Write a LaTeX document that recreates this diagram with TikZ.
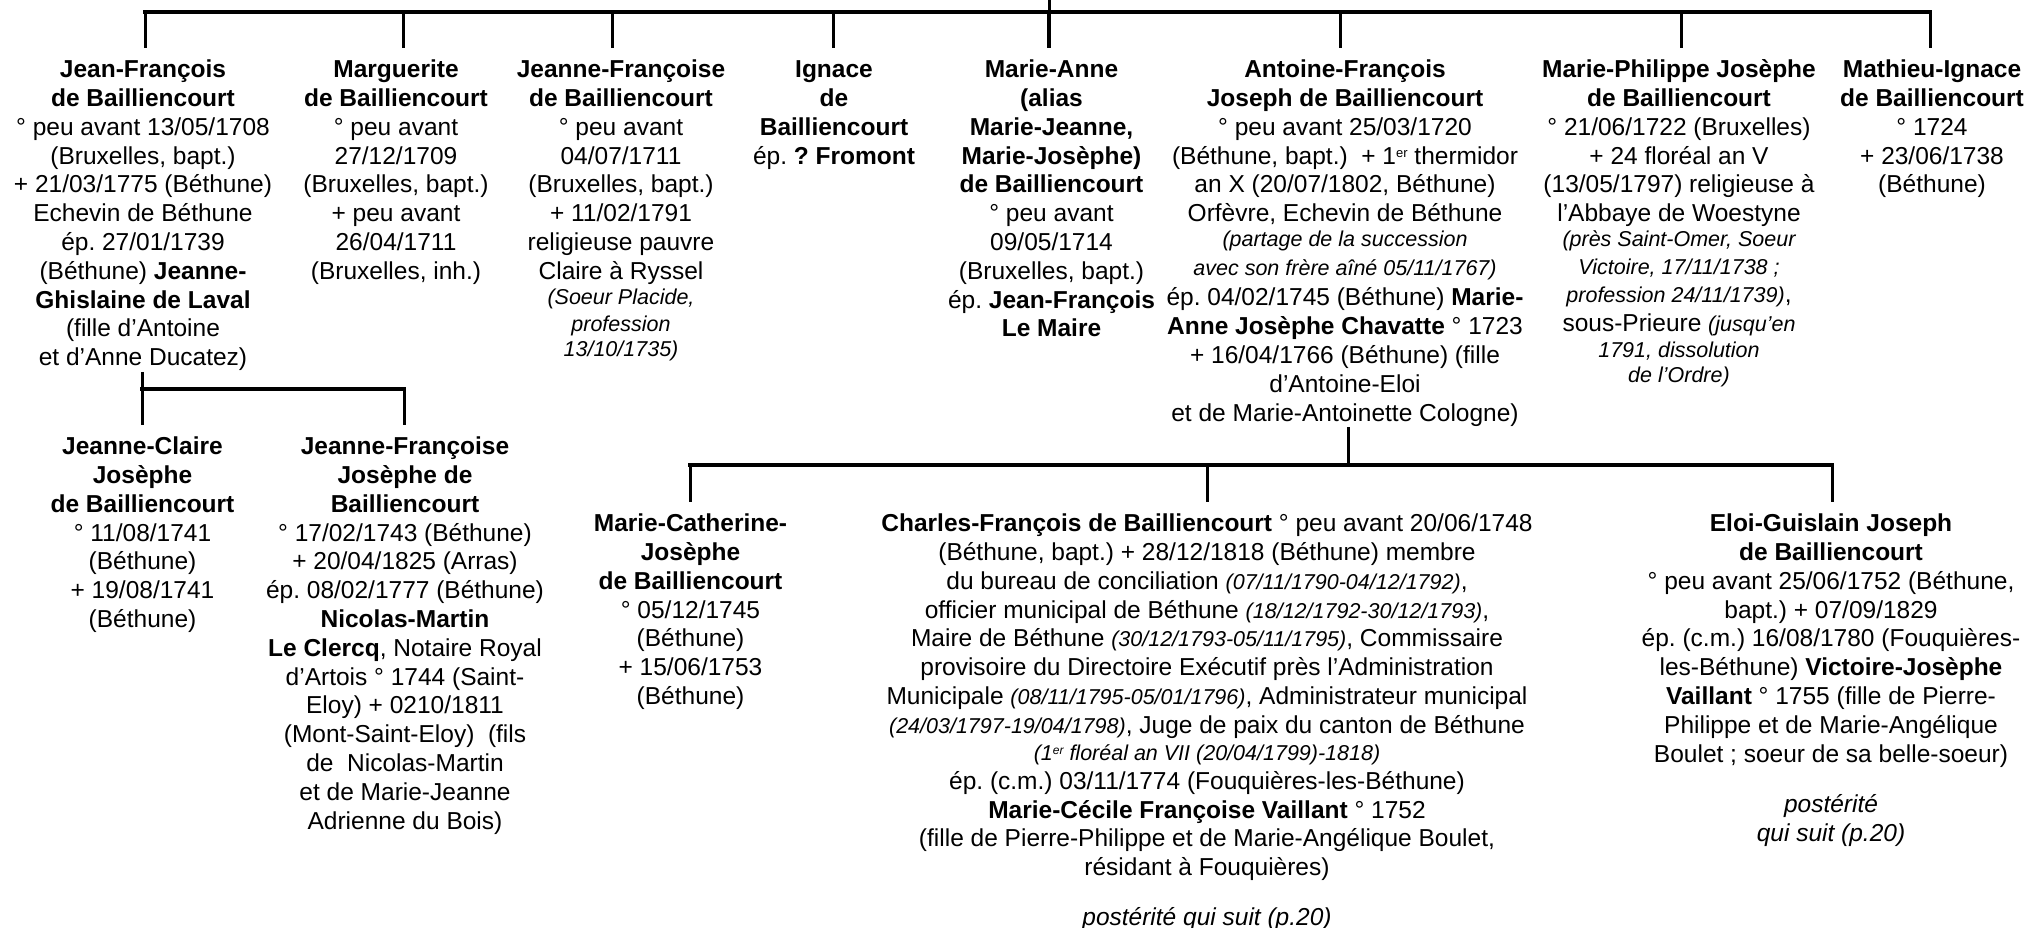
\documentclass[tikz,border=0pt]{standalone}
\usepackage{fontspec}
\setmainfont{Liberation Sans}
\newcommand{\topstrut}{\rule{0pt}{29.5pt}}
\newcommand{\ita}[1]{{\fontsize{21.5}{28.8}\selectfont\itshape #1}}
\newcommand{\itb}[1]{{\itshape #1}}
\newcommand{\er}{\raisebox{7pt}{\fontsize{13}{13}\selectfont er}}
\newcommand{\erit}{\raisebox{6pt}{\fontsize{12}{12}\selectfont\itshape er}}
\tikzset{
  person/.style={anchor=north,align=center,inner sep=0pt,text=black,
    font=\fontsize{24.5}{28.8}\selectfont\frenchspacing},
  link/.style={draw=black,line width=3pt},
  linkb/.style={draw=black,line width=3.6pt,line cap=rect},
  linkc/.style={draw=black,line width=3.8pt},
}
\begin{document}
\begin{tikzpicture}[x=1pt,y=-1pt]
\useasboundingbox (0,0) rectangle (2029,928);
% row 1
\node[person] (n1) at (143,48) {\topstrut\textbf{Jean-François}\\\textbf{de Bailliencourt}\\° peu avant 13/05/1708\\(Bruxelles, bapt.)\\+ 21/03/1775 (Béthune)\\Echevin de Béthune\\ép. 27/01/1739\\(Béthune) \textbf{Jeanne-}\\\textbf{Ghislaine de Laval}\\(fille d’Antoine\\et d’Anne Ducatez)\rule[-6pt]{0pt}{1pt}};
\node[person] (n2) at (396,48) {\topstrut\textbf{Marguerite}\\\textbf{de Bailliencourt}\\° peu avant\\27/12/1709\\(Bruxelles, bapt.)\\+ peu avant\\26/04/1711\\(Bruxelles, inh.)};
\node[person] (n3) at (621,48) {\topstrut\textbf{Jeanne-Françoise}\\\textbf{de Bailliencourt}\\° peu avant\\04/07/1711\\(Bruxelles, bapt.)\\+ 11/02/1791\\religieuse pauvre\\Claire à Ryssel\\[-3.6pt]\ita{(Soeur Placide,}\\[-2.2pt]\ita{profession}\\[-3.2pt]\ita{13/10/1735)}};
\node[person] (n4) at (834,48) {\topstrut\textbf{Ignace}\\\textbf{de}\\\textbf{Bailliencourt}\\ép. \textbf{? Fromont}};
\node[person] (n5) at (1051.5,48) {\topstrut\textbf{Marie-Anne}\\\textbf{(alias}\\\textbf{Marie-Jeanne,}\\\textbf{Marie-Josèphe)}\\\textbf{de Bailliencourt}\\° peu avant\\09/05/1714\\(Bruxelles, bapt.)\\ép. \textbf{Jean-François}\\\textbf{Le Maire}};
\node[person] (n6) at (1345,48) {\topstrut\textbf{Antoine-François}\\\textbf{Joseph de Bailliencourt}\\° peu avant 25/03/1720\\(Béthune, bapt.)\ \ + 1\er{} thermidor\\an X (20/07/1802, Béthune)\\Orfèvre, Echevin de Béthune\\[-3.6pt]\ita{(partage de la succession}\\\ita{avec son frère aîné 05/11/1767)}\\[1.4pt]ép. 04/02/1745 (Béthune) \textbf{Marie-}\\\textbf{Anne Josèphe Chavatte} ° 1723\\+ 16/04/1766 (Béthune) (fille\\d’Antoine-Eloi\\et de Marie-Antoinette Cologne)\rule[-6pt]{0pt}{1pt}};
\node[person] (n7) at (1679,48) {\topstrut\textbf{Marie-Philippe Josèphe}\\\textbf{de Bailliencourt}\\° 21/06/1722 (Bruxelles)\\+ 24 floréal an V\\(13/05/1797) religieuse à\\l’Abbaye de Woestyne\\[-3.6pt]\ita{(près Saint-Omer, Soeur}\\[-1.6pt]\ita{Victoire, 17/11/1738 ;}\\\ita{profession 24/11/1739)},\\sous-Prieure \ita{(jusqu’en}\\[-3.2pt]\ita{1791, dissolution}\\[-3.2pt]\ita{de l’Ordre)}};
\node[person] (n8) at (1932,48) {\topstrut\textbf{Mathieu-Ignace}\\\textbf{de Bailliencourt}\\° 1724\\+ 23/06/1738\\(Béthune)};
% row 2
\node[person] (c1) at (142.5,425) {\topstrut\textbf{Jeanne-Claire}\\\textbf{Josèphe}\\\textbf{de Bailliencourt}\\° 11/08/1741\\(Béthune)\\+ 19/08/1741\\(Béthune)};
\node[person] (c2) at (405,425) {\topstrut\textbf{Jeanne-Françoise}\\\textbf{Josèphe de}\\\textbf{Bailliencourt}\\° 17/02/1743 (Béthune)\\+ 20/04/1825 (Arras)\\ép. 08/02/1777 (Béthune)\\\textbf{Nicolas-Martin}\\\textbf{Le Clercq}, Notaire Royal\\d’Artois ° 1744 (Saint-\\Eloy) + 0210/1811\\(Mont-Saint-Eloy)\ \ (fils\\de\ \ Nicolas-Martin\\et de Marie-Jeanne\\Adrienne du Bois)};
% row 3
\node[person] (d1) at (690.5,502) {\topstrut\textbf{Marie-Catherine-}\\\textbf{Josèphe}\\\textbf{de Bailliencourt}\\° 05/12/1745\\(Béthune)\\+ 15/06/1753\\(Béthune)};
\node[person] (d2) at (1207,502) {\topstrut\textbf{Charles-François de Bailliencourt} ° peu avant 20/06/1748\\(Béthune, bapt.) + 28/12/1818 (Béthune) membre\\du bureau de conciliation \ita{(07/11/1790-04/12/1792)},\\officier municipal de Béthune \ita{(18/12/1792-30/12/1793)},\\Maire de Béthune \ita{(30/12/1793-05/11/1795)}, Commissaire\\provisoire du Directoire Exécutif près l’Administration\\Municipale \ita{(08/11/1795-05/01/1796)}, Administrateur municipal\\\ita{(24/03/1797-19/04/1798)}, Juge de paix du canton de Béthune\\[-1.6pt]\ita{(1\erit{} floréal an VII (20/04/1799)-1818)}\\ép. (c.m.) 03/11/1774 (Fouquières-les-Béthune)\\\textbf{Marie-Cécile Françoise Vaillant} ° 1752\\(fille de Pierre-Philippe et de Marie-Angélique Boulet,\\résidant à Fouquières)\\[20.6pt]\itb{postérité qui suit (p.20)}};
\node[person] (d3) at (1831,502) {\topstrut\textbf{Eloi-Guislain Joseph}\\\textbf{de Bailliencourt}\\° peu avant 25/06/1752 (Béthune,\\bapt.) + 07/09/1829\\ép. (c.m.) 16/08/1780 (Fouquières-\\les-Béthune) \textbf{Victoire-Josèphe}\\\textbf{Vaillant} ° 1755 (fille de Pierre-\\Philippe et de Marie-Angélique\\Boulet ; soeur de sa belle-soeur)\\[21.4pt]\itb{postérité}\\\itb{qui suit (p.20)}};
% top bus
\coordinate (top) at (1049,0);
\coordinate (a1) at (145,12);
\coordinate (a2) at (403,12);
\coordinate (a3) at (612,12);
\coordinate (a4) at (833,12);
\coordinate (a5) at (1049,12);
\coordinate (a6) at (1340,12);
\coordinate (a7) at (1681,12);
\coordinate (a8) at (1930,12);
\draw[linkb] (a1) -- (a8);
\draw[link] (top) -- (a5);
\foreach \i in {1,2,3,4,6,7,8} \draw[link] (a\i) -- (a\i |- n\i.north);
\draw[linkc] (a5) -- (a5 |- n5.north);
% Jean-François's children
\coordinate (b1) at (142,389);
\coordinate (b2) at (404,389);
\draw[linkb] (b1) -- (b2);
\draw[link] (b1 |- n1.south) -- (b1);
\draw[link] (b1) -- (b1 |- c1.north);
\draw[link] (b2) -- (b2 |- c2.north);
% Antoine-François's children
\coordinate (e0) at (1348,465);
\coordinate (e1) at (690,465);
\coordinate (e2) at (1207.5,465);
\coordinate (e3) at (1832,465);
\draw[linkb] (e1) -- (e3);
\draw[link] (e0 |- n6.south) -- (e0);
\draw[link] (e1) -- (e1 |- d1.north);
\draw[linkc] (e2) -- (e2 |- d2.north);
\draw[link] (e3) -- (e3 |- d3.north);
\end{tikzpicture}
\end{document}
